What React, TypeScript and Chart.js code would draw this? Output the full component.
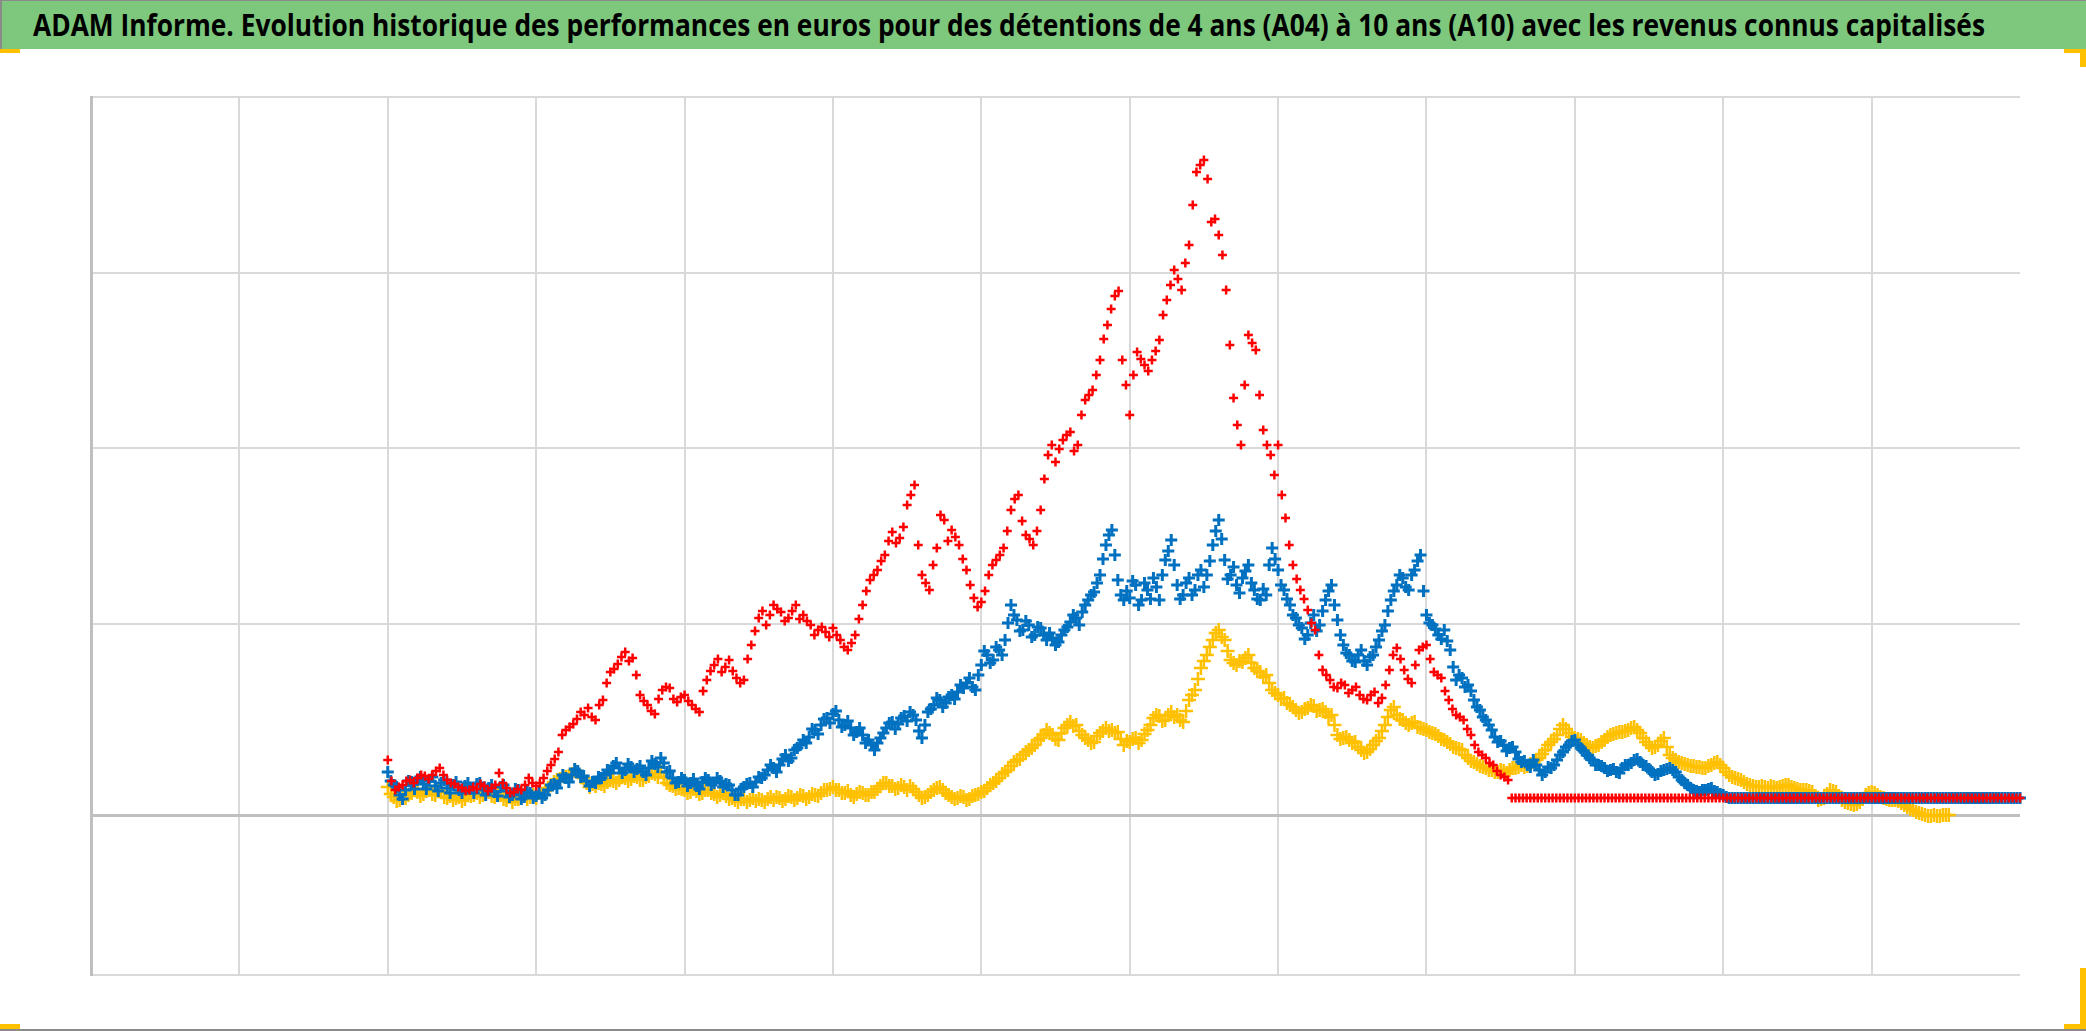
import React, { useEffect, useLayoutEffect, useRef } from "react";
import { Chart, registerables } from "chart.js";

Chart.register(...registerables);

const TITLE =
  "ADAM Informe. Evolution historique des performances en euros pour des détentions de 4 ans (A04) à 10 ans (A10) avec les revenus connus capitalisés";

// x axis: one unit per vertical grid interval (0..13); series start at 2
const X_MIN = 0;
const X_MAX = 13;
const X_START = 2;
const STEP_DENSE = 0.02; // blue & yellow observations (A and B readings interleaved)
const STEP_RED = 0.025; // red observations (A and B readings interleaved)

// y axis (performance units), grid values
const Y_MIN = -80;
const Y_MAX = 359;
const Y_GRID = [-80, 0, 95.5, 183.25, 271, 359];

// blue: readings at even steps (A) and in-between steps (B)
const blueA = [
  21.5, 15, 10, 12.5, 16.5, 17.5, 15.5, 17, 14.5, 16, 13.5, 15, 12.5, 14.5, 13, 15.5, 12.5, 13.5, 11.5, 14, 12, 10, 12.5, 9, 11,
  9.5, 8.5, 12.5, 15.5, 17, 18.5, 20, 22, 19.5, 14.5, 16, 18.5, 22.5, 24.5, 23.5, 22.5, 24, 23, 21.5, 23.5, 25.5, 28.5, 21.5, 18.5, 16.5,
  17.5, 16, 14.5, 16.5, 17.5, 16, 17, 15.5, 12.5, 10, 14, 16, 16.5, 18.5, 22.5, 23.5, 25, 30, 28.5, 33.5, 37.5, 39, 42.5, 45, 48.5,
  50.5, 47.5, 45, 43.5, 41.5, 40, 37.5, 32.5, 38.5, 43.5, 46.5, 45.5, 49.5, 51.5, 47.5, 38.5, 51.5, 55, 57.5, 56, 60, 61.5, 63.5, 68.5, 62.5,
  75, 80, 77.5, 82.5, 87.5, 105, 97.5, 92.5, 95, 90, 93.5, 87.5, 88.5, 86.5, 92.5, 96.5, 98.5, 101.5, 107.5, 111.5, 120, 135, 142.5, 117.5, 107.5,
  108.5, 115, 107.5, 112.5, 118.5, 107.5, 127.5, 137.5, 115, 110, 118.5, 112.5, 122.5, 120, 135, 147.5, 127.5, 120, 115, 118.5, 125, 112.5, 107.5, 110, 133.5,
  122.5, 112.5, 105, 98.5, 93.5, 90, 100, 95, 107.5, 115, 97.5, 85, 80, 76.5, 82.5, 75, 80, 87.5, 95, 107.5, 115, 118.5, 112.5, 122.5, 130,
  100, 95, 90, 92.5, 82.5, 67.5, 68.5, 65, 57.5, 52.5, 47.5, 42.5, 36.5, 35, 33.5, 31.5, 26.5, 25, 27.5, 22.5, 21.5, 23.5, 27.5, 31.5, 35,
  37.5, 33.5, 30, 27.5, 25, 23.5, 22.5, 21.5, 23.5, 25, 27.5, 26.5, 24.5, 21.5, 20.5, 22.5, 23.5, 21.5, 17.5, 15, 12.5, 11.5, 12.5, 13.5, 11.5,
  10, 8.5, 8.5, 8.5, 8.5, 8.5, 8.5, 8.5, 8.5, 8.5,
  8.5, 8.5, 8.5, 8.5, 8.5, 8.5, 8.5, 8.5, 8.5, 8.5,
  8.5, 8.5, 8.5, 8.5, 8.5, 8.5, 8.5, 8.5, 8.5, 8.5,
  8.5, 8.5, 8.5, 8.5, 8.5, 8.5, 8.5, 8.5, 8.5, 8.5,
  8.5, 8.5, 8.5, 8.5, 8.5, 8.5, 8.5, 8.5, 8.5, 8.5,
  8.5,
];
const blueB = [
  17, 14, 8, 17, 13, 19, 13, 19, 12, 17.5, 11, 16.5, 11, 16, 11, 16, 10, 15, 9.5, 15, 9, 13, 8, 12, 8.5,
  11, 10, 15, 13.5, 20, 16.5, 23, 19, 17, 16.5, 19, 20, 21, 26, 21, 25.5, 21.5, 24.5, 20, 27, 24, 26, 22, 16, 18.5,
  14.5, 18, 13, 18.5, 15, 18.5, 14, 15, 10, 13, 15.5, 14, 19, 20, 25, 21.5, 28, 27, 32.5, 35, 36, 43, 40.5, 48, 46,
  52, 44, 47, 40, 43.5, 36, 35, 36, 41, 46, 43, 48.5, 47, 50, 42, 45, 53, 58.5, 54, 59, 58, 65, 66, 64, 70,
  82, 76, 84, 80, 96, 100, 92, 97, 89, 94, 90, 91, 85, 90, 94, 100, 95, 105, 110, 116, 128, 140, 130, 110, 112,
  117, 105, 116, 108, 114, 120, 132, 125, 108, 116, 110, 120, 114, 127, 142, 138, 118, 124, 111, 122, 116, 108, 113, 125, 128,
  115, 108, 100, 95, 88, 96, 92, 102, 112, 105, 90, 81, 77, 80, 77, 79, 84, 92, 102, 112, 120, 114, 120, 127, 112,
  96, 93, 88, 87, 74, 70, 64, 62, 54, 49, 45, 39, 37, 32, 34, 28, 27, 24, 25, 20, 24, 25, 30, 34, 37,
  35, 32, 28.5, 25, 24.5, 22, 23, 21, 25, 26, 28, 25, 23, 20, 22, 23, 22.5, 19, 16, 13.5, 12, 12.5, 13, 12, 10.5,
  9, 8.5, 8.5, 8.5, 8.5, 8.5, 8.5, 8.5, 8.5, 8.5,
  8.5, 8.5, 8.5, 8.5, 8.5, 8.5, 8.5, 8.5, 8.5, 8.5,
  8.5, 8.5, 8.5, 8.5, 8.5, 8.5, 8.5, 8.5, 8.5, 8.5,
  8.5, 8.5, 8.5, 8.5, 8.5, 8.5, 8.5, 8.5, 8.5, 8.5,
  8.5, 8.5, 8.5, 8.5, 8.5, 8.5, 8.5, 8.5, 8.5, 8.5,
];

const yellowA = [
  14, 9, 7.5, 8.5, 11, 11.5, 10.5, 12.5, 10, 11.5, 8.5, 7.5, 9, 8, 9.5, 11, 10, 11.5, 9, 10, 7.5, 6.5, 8, 10, 9,
  8.5, 10, 13.5, 16.5, 18, 19, 20.5, 21.5, 18.5, 14, 14.5, 15.5, 16.5, 17, 17.5, 18.5, 18, 19, 17.5, 19.5, 20.5, 21.5, 16, 14.5, 13.5,
  12.5, 11.5, 12, 11, 12.5, 10.5, 10, 9.5, 8.5, 6.5, 8, 7.5, 7, 7.5, 8, 7.5, 8.5, 8, 9, 8.5, 9.5, 9, 10, 11, 12.5,
  14, 12.5, 11, 10, 10.5, 11, 10, 11.5, 14.5, 16, 14.5, 13.5, 14, 14.5, 11.5, 8.5, 10, 12.5, 14, 11, 9, 8.5, 9, 8, 10,
  11.5, 13.5, 16, 18.5, 21.5, 24.5, 27.5, 30, 32.5, 35, 38.5, 42.5, 40, 37.5, 43.5, 46.5, 45, 40, 37.5, 36.5, 41, 43.5, 42.5, 41.5, 35,
  36.5, 38.5, 37.5, 42.5, 48.5, 49.5, 47.5, 51.5, 50, 46.5, 57.5, 62.5, 73.5, 80, 87.5, 92.5, 87.5, 77.5, 75, 76.5, 80, 73.5, 71.5, 70, 62.5,
  60, 58.5, 55, 52.5, 51.5, 53.5, 54.5, 52.5, 51.5, 50, 40, 38.5, 37.5, 36.5, 32.5, 31.5, 35, 38.5, 45, 52.5, 50, 47.5, 45, 46.5, 43.5,
  42.5, 41, 39.5, 37.5, 35.5, 33.5, 32.5, 28.5, 26.5, 24.5, 23.5, 22.5, 21.5, 22, 22.5, 23.5, 25, 24.5, 26.5, 28.5, 32.5, 36.5, 40, 45, 41,
  38.5, 37.5, 35, 33.5, 35, 37.5, 40, 41, 41.5, 42.5, 44, 41, 36.5, 33.5, 35, 38.5, 30, 27.5, 26, 25, 24.5, 24, 23.5, 25, 26.5,
  23.5, 20, 18.5, 17.5, 15.5, 14.5, 14, 14, 14.5, 13.5, 14.5, 15, 13.5, 12.5, 12.5, 11.5, 7.5, 8.5, 12.5, 11.5, 7.5, 6, 5, 6.5, 10,
  11.5, 10, 8.5, 7.5, 7.5, 6, 4, 2.5, 1, 0, -0.5, -0.5, 0, 0,
];
const yellowB = [
  10.5, 7, 10, 10, 12.5, 9.5, 12, 10.5, 12.5, 9, 9.5, 8.5, 7, 10, 10, 9, 12, 9.5, 11.5, 8, 9, 8, 9.5, 8, 10,
  11, 12, 15, 17.5, 19.5, 19.5, 22, 19.5, 16, 15.5, 16, 14.5, 18, 16, 19, 17, 19.5, 17.5, 19, 21, 19, 18.5, 15, 13, 13,
  11, 13, 10.5, 12.5, 11, 9, 11, 8, 7.5, 8, 6.5, 8.5, 8, 6.5, 9, 9, 7, 9.5, 7.5, 10, 8, 10.5, 9.5, 12.5, 13,
  12.5, 11, 12, 9, 11.5, 10, 11.5, 13, 16, 14.5, 13, 15, 12.5, 13, 10, 9, 11.5, 13.5, 12.5, 10, 8, 9.5, 7.5, 9.5, 10.5,
  12, 15, 17, 20.5, 22.5, 26.5, 28, 31.5, 33.5, 37.5, 40, 41, 38, 41, 45, 44.5, 42, 38.5, 36, 39.5, 42, 42, 41, 38, 37,
  38, 36, 40.5, 45, 50, 47, 50, 49, 47.5, 52, 60, 68, 77, 84, 91, 89, 82, 76, 77, 78.5, 76, 72, 69, 66, 61,
  58, 56, 54, 51, 53, 55, 52, 53, 49, 45, 38, 39, 36, 34, 31, 33, 37, 42, 49, 54, 48, 46, 46, 44, 43,
  41.5, 40.5, 38, 36.5, 34, 33, 30, 27, 25.5, 24, 22.5, 21.5, 22.5, 21, 23.5, 24, 24, 25.5, 27.5, 30.5, 35, 38, 43, 43, 39,
  38, 36, 34, 34.5, 36.5, 39, 40.5, 41.5, 42, 43.5, 42.5, 38.5, 35, 34, 37, 34, 28.5, 26.5, 25.5, 24.5, 24, 23.5, 24.5, 26, 25,
  21.5, 19, 18, 16.5, 15, 14, 14.5, 13.5, 14, 14, 15, 14, 13, 12.5, 12, 9.5, 8, 10.5, 12, 9.5, 6.5, 5.5, 5.5, 8, 11,
  11, 9, 8, 7.5, 7, 5, 3, 1.5, 0.5, -0.5, 0, -0.5, 0,
];

const redA = [
  27.5, 12.5, 15, 17.5, 18.5, 19.5, 20, 23.5, 17.5, 15.5, 13.5, 12.5, 13, 14.5, 13.5, 21, 13.5, 11.5, 12.5, 18.5,
  14.5, 18.5, 25, 31.5, 42.5, 45.5, 51.5, 53.5, 47.5, 57.5, 71.5, 75.5, 81.5, 78.5, 60, 55, 50.5, 62.5, 63.5, 56.5,
  60, 55, 51.5, 67.5, 75, 71.5, 77.5, 68.5, 67.5, 85, 98.5, 95, 105, 101.5, 98.5, 105, 100, 95, 92.5, 91.5,
  93.5, 87.5, 82.5, 90, 105, 117.5, 122.5, 130, 141.5, 138.5, 155, 165, 120, 112.5, 133.5, 147.5, 142.5, 135, 122.5, 108.5,
  106.5, 120, 127.5, 133.5, 152.5, 160, 140, 135, 152.5, 180, 176.5, 187.5, 191.5, 185, 207.5, 212.5, 227.5, 245, 259.5, 227.5,
  200, 231.5, 225, 227.5, 237.5, 257.5, 272.5, 262.5, 285, 321.5, 327.5, 296.5, 290, 262.5, 208.5, 185, 240, 232.5, 192.5, 180,
  185, 148.5, 125, 112.5, 102.5, 92.5, 72.5, 67.5, 63.5, 65, 62.5, 60, 57.5, 61.5, 58.5, 72.5, 83.5, 72.5, 66, 82.5,
  85, 71.5, 68.5, 57.5, 50, 47.5, 40, 31.5, 28.5, 25, 20, 17.5, 8.5, 8.5, 8.5, 8.5, 8.5, 8.5, 8.5, 8.5,
  8.5, 8.5, 8.5, 8.5, 8.5, 8.5, 8.5, 8.5, 8.5, 8.5, 8.5, 8.5, 8.5, 8.5, 8.5, 8.5, 8.5, 8.5, 8.5, 8.5,
  8.5, 8.5, 8.5, 8.5, 8.5, 8.5, 8.5, 8.5, 8.5, 8.5, 8.5, 8.5, 8.5, 8.5, 8.5, 8.5, 8.5, 8.5, 8.5, 8.5,
  8.5, 8.5, 8.5, 8.5, 8.5, 8.5, 8.5, 8.5, 8.5, 8.5, 8.5, 8.5, 8.5, 8.5, 8.5, 8.5, 8.5, 8.5, 8.5, 8.5,
  8.5,
];
const redB = [
  17, 14, 17, 16, 20, 18, 22, 20, 16, 14, 12, 14, 15.5, 12, 15, 16, 11, 13, 15, 16,
  16, 22, 28, 40, 44, 48, 50, 49, 55, 66, 73, 79, 77, 70, 57, 52, 58, 64, 58, 59,
  57, 53, 62, 72, 78, 74, 72, 66, 78, 92, 102, 100, 103, 97, 102, 98, 97, 90, 94, 89,
  90, 84, 86, 98, 112, 120, 127, 137, 136, 144, 160, 135, 116, 125, 150, 137, 139, 128, 115, 104,
  112, 125, 130, 142, 158, 147, 138, 142, 168, 185, 183, 190, 182, 200, 210, 220, 238, 253, 262, 215,
  220, 228, 222, 232, 250, 265, 268, 276, 305, 325, 318, 298, 280, 235, 195, 215, 236, 210, 185, 170,
  160, 135, 118, 108, 96, 80, 70, 64, 66, 61, 64, 58, 60, 56, 65, 80, 78, 68, 75, 84,
  78, 70, 62, 53, 49, 43, 35, 30, 26, 22, 19, 8.5, 8.5, 8.5, 8.5, 8.5, 8.5, 8.5, 8.5, 8.5,
  8.5, 8.5, 8.5, 8.5, 8.5, 8.5, 8.5, 8.5, 8.5, 8.5, 8.5, 8.5, 8.5, 8.5, 8.5, 8.5, 8.5, 8.5, 8.5, 8.5,
  8.5, 8.5, 8.5, 8.5, 8.5, 8.5, 8.5, 8.5, 8.5, 8.5, 8.5, 8.5, 8.5, 8.5, 8.5, 8.5, 8.5, 8.5, 8.5, 8.5,
  8.5, 8.5, 8.5, 8.5, 8.5, 8.5, 8.5, 8.5, 8.5, 8.5, 8.5, 8.5, 8.5, 8.5, 8.5, 8.5, 8.5, 8.5, 8.5, 8.5,
];

const SERIES_NAMES = ["A04", "A07", "A10"];
const COLORS = { red: "#ff0000", blue: "#0070c0", yellow: "#ffc000" };

const interleave = (a: number[], b: number[]) => {
  const out: number[] = [];
  a.forEach((v, i) => {
    out.push(v);
    if (i < b.length) out.push(b[i]);
  });
  return out;
};

const toPoints = (vals: number[], start: number, step: number) =>
  vals.map((y, i) => ({ x: start + i * step, y }));

export default function App() {
  const canvasRef = useRef<HTMLCanvasElement | null>(null);
  const titleRef = useRef<HTMLSpanElement | null>(null);

  useLayoutEffect(() => {
    const fit = () => {
      const el = titleRef.current;
      if (!el) return;
      el.style.transform = "none";
      const w = el.getBoundingClientRect().width;
      if (w > 0) el.style.transform = `scaleX(${1952 / w})`;
    };
    fit();
    const fonts = (document as any).fonts;
    if (fonts && fonts.ready) fonts.ready.then(fit);
  }, []);

  useEffect(() => {
    const canvas = canvasRef.current;
    if (!canvas) return;
    const chart = new Chart(canvas, {
      type: "scatter",
      data: {
        datasets: [
          {
            label: SERIES_NAMES[0],
            data: toPoints(interleave(redA, redB), X_START, STEP_RED),
            pointStyle: "cross",
            radius: 4.5,
            borderWidth: 2.5,
            borderColor: COLORS.red,
            backgroundColor: COLORS.red,
            order: 0,
            clip: false,
          },
          {
            label: SERIES_NAMES[1],
            data: toPoints(interleave(blueA, blueB), X_START, STEP_DENSE),
            pointStyle: "cross",
            radius: 6,
            borderWidth: 3,
            borderColor: COLORS.blue,
            backgroundColor: COLORS.blue,
            order: 1,
            clip: false,
          },
          {
            label: SERIES_NAMES[2],
            data: toPoints(interleave(yellowA, yellowB), X_START, STEP_DENSE),
            pointStyle: "cross",
            radius: 7,
            borderWidth: 2.5,
            borderColor: COLORS.yellow,
            backgroundColor: COLORS.yellow,
            order: 2,
            clip: false,
          },
        ],
      },
      options: {
        responsive: false,
        animation: false,
        events: [],
        layout: { padding: { left: 91, right: 66, top: 97, bottom: 56 } },
        plugins: {
          legend: { display: false },
          tooltip: { enabled: false },
          title: { display: false },
        },
        scales: {
          x: {
            type: "linear",
            min: X_MIN,
            max: X_MAX,
            ticks: { display: false, stepSize: 1 },
            grid: {
              drawTicks: false,
              lineWidth: 2,
              color: (ctx: any) =>
                ctx.tick && ctx.tick.value === X_MAX ? "rgba(0,0,0,0)" : "#d9d9d9",
            },
            border: { display: false },
            afterFit: (s: any) => {
              s.height = 0;
            },
          },
          y: {
            type: "linear",
            min: Y_MIN,
            max: Y_MAX,
            ticks: { display: false },
            afterBuildTicks: (s: any) => {
              s.ticks = Y_GRID.map((v) => ({ value: v }));
            },
            grid: {
              drawTicks: false,
              lineWidth: (ctx: any) => (ctx.tick && ctx.tick.value === 0 ? 3 : 2),
              color: (ctx: any) => (ctx.tick && ctx.tick.value === 0 ? "#bfbfbf" : "#d9d9d9"),
            },
            border: { display: true, color: "#bfbfbf", width: 3 },
            afterFit: (s: any) => {
              s.width = 0;
            },
          },
        },
      },
    } as any);
    return () => chart.destroy();
  }, []);

  const yellowMark = (l: number, t: number, w: number, h: number) => (
    <div style={{ position: "absolute", left: l, top: t, width: w, height: h, background: "#ffc000" }} />
  );

  return (
    <div
      style={{
        position: "fixed",
        left: 0,
        top: 0,
        width: 2086,
        height: 1031,
        background: "#ffffff",
        overflow: "hidden",
      }}
    >
      <canvas
        ref={canvasRef}
        width={2086}
        height={1031}
        style={{ position: "absolute", left: 0, top: 0, width: 2086, height: 1031 }}
      />
      <div
        style={{
          position: "absolute",
          left: 0,
          top: 0,
          width: 2086,
          height: 49,
          background: "#7dc87d",
          borderTop: "1px solid #8a8a8a",
          borderLeft: "2px solid #8a8a8a",
          boxSizing: "border-box",
        }}
      >
        <span
          ref={titleRef}
          style={{
            position: "absolute",
            left: 31,
            top: 9,
            fontFamily: '"Open Sans", sans-serif',
            fontWeight: 700,
            fontSize: 30,
            lineHeight: "30px",
            whiteSpace: "nowrap",
            color: "#000000",
            transformOrigin: "0 0",
          }}
        >
          {TITLE}
        </span>
      </div>
      {yellowMark(0, 49, 20, 4)}
      {yellowMark(2064, 49, 22, 4)}
      {yellowMark(2080, 49, 6, 18)}
      {yellowMark(0, 1024, 20, 5)}
      {yellowMark(2080, 968, 6, 61)}
      {yellowMark(2064, 1024, 22, 5)}
      <div style={{ position: "absolute", left: 0, top: 1029, width: 2086, height: 2, background: "#8a8a8a" }} />
    </div>
  );
}
